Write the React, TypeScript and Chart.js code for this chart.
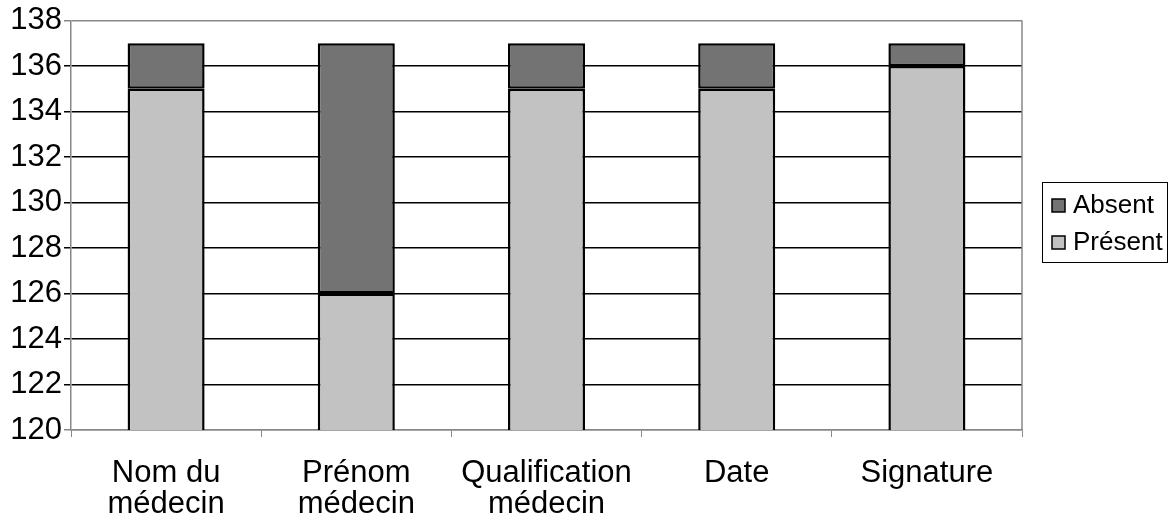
import React, { useEffect, useRef } from "react";
import { Chart, registerables } from "chart.js";
Chart.register(...registerables);

const categories: string[][] = [
  ["Nom du", "médecin"],
  ["Prénom", "médecin"],
  ["Qualification", "médecin"],
  ["Date"],
  ["Signature"],
];
const presentValues = [135, 126, 135, 135, 136];
const absentValues = [2, 11, 2, 2, 1];
const seriesNames = ["Présent", "Absent"];
const yMin = 120;
const yMax = 138;
const yStep = 2;

const FONT = "Arial, 'Liberation Sans', sans-serif";

const boxLegend = {
  id: "boxLegend",
  afterDraw(chart: any) {
    const ctx = chart.ctx;
    const x0 = 1042, y0 = 182, w = 125, h = 80;
    ctx.save();
    ctx.strokeStyle = "#000";
    ctx.lineWidth = 1;
    ctx.strokeRect(x0 + 0.5, y0 + 0.5, w, h);
    const ds = chart.data.datasets.slice().reverse();
    ds.forEach((d: any, i: number) => {
      const cy = y0 + 23 + i * 37;
      ctx.fillStyle = d.backgroundColor;
      ctx.fillRect(x0 + 10, cy - 6, 13, 13);
      ctx.strokeStyle = "#000";
      ctx.lineWidth = 1.5;
      ctx.strokeRect(x0 + 10, cy - 6, 13, 13);
      ctx.fillStyle = "#000";
      ctx.font = `26px ${FONT}`;
      ctx.textBaseline = "middle";
      ctx.textAlign = "left";
      ctx.fillText(d.label, x0 + 31, cy + 1);
    });
    const a = chart.chartArea;
    ctx.strokeStyle = "#888";
    ctx.lineWidth = 1.5;
    ctx.beginPath();
    ctx.moveTo(a.right, a.top);
    ctx.lineTo(a.right, a.bottom);
    ctx.stroke();
    ctx.restore();
  },
};

export default function App() {
  const ref = useRef<HTMLCanvasElement>(null);
  useEffect(() => {
    document.body.style.margin = "0";
    const chart = new Chart(ref.current!, {
      type: "bar",
      data: {
        labels: categories,
        datasets: [
          {
            label: seriesNames[0],
            data: presentValues,
            backgroundColor: "#c2c2c2",
            borderColor: "#000",
            borderWidth: 2.5,
            borderSkipped: false,
          },
          {
            label: seriesNames[1],
            data: absentValues,
            backgroundColor: "#737373",
            borderColor: "#000",
            borderWidth: 2.5,
            borderSkipped: false,
          },
        ],
      },
      options: {
        animation: false,
        responsive: false,
        devicePixelRatio: 1,
        layout: { padding: { top: 19, right: 148, left: 0, bottom: 0 } },
        datasets: { bar: { categoryPercentage: 1, barPercentage: 0.405 } },
        plugins: { legend: { display: false }, tooltip: { enabled: false } },
        scales: {
          x: {
            stacked: true,
            offset: true,
            grid: {
              offset: true,
              drawOnChartArea: false,
              drawTicks: true,
              tickLength: 7,
              color: "#888",
            },
            border: { color: "#888", width: 1.5 },
            ticks: {
              color: "#000",
              font: { size: 31, family: FONT, lineHeight: 1.0 },
              padding: 21,
              maxRotation: 0,
              autoSkip: false,
            },
            afterFit(s: any) {
              s.height = 86;
            },
          },
          y: {
            stacked: true,
            min: yMin,
            max: yMax,
            ticks: {
              stepSize: yStep,
              color: "#000",
              font: { size: 31, family: FONT },
              padding: 2,
            },
            grid: {
              tickLength: 7,
              lineWidth: 1.5,
              color: (c: any) =>
                c.tick && (c.tick.value === yMin || c.tick.value === yMax) ? "#888" : "#000",
            },
            border: { color: "#888", width: 1.5 },
            afterFit(s: any) {
              s.width = 71;
            },
          },
        },
      },
      plugins: [boxLegend],
    });
    return () => chart.destroy();
  }, []);
  return (
    <div style={{ position: "absolute", left: 0, top: 0, width: 1170, height: 516, background: "#fff" }}>
      <canvas ref={ref} width={1170} height={516} style={{ width: 1170, height: 516 }} />
    </div>
  );
}
